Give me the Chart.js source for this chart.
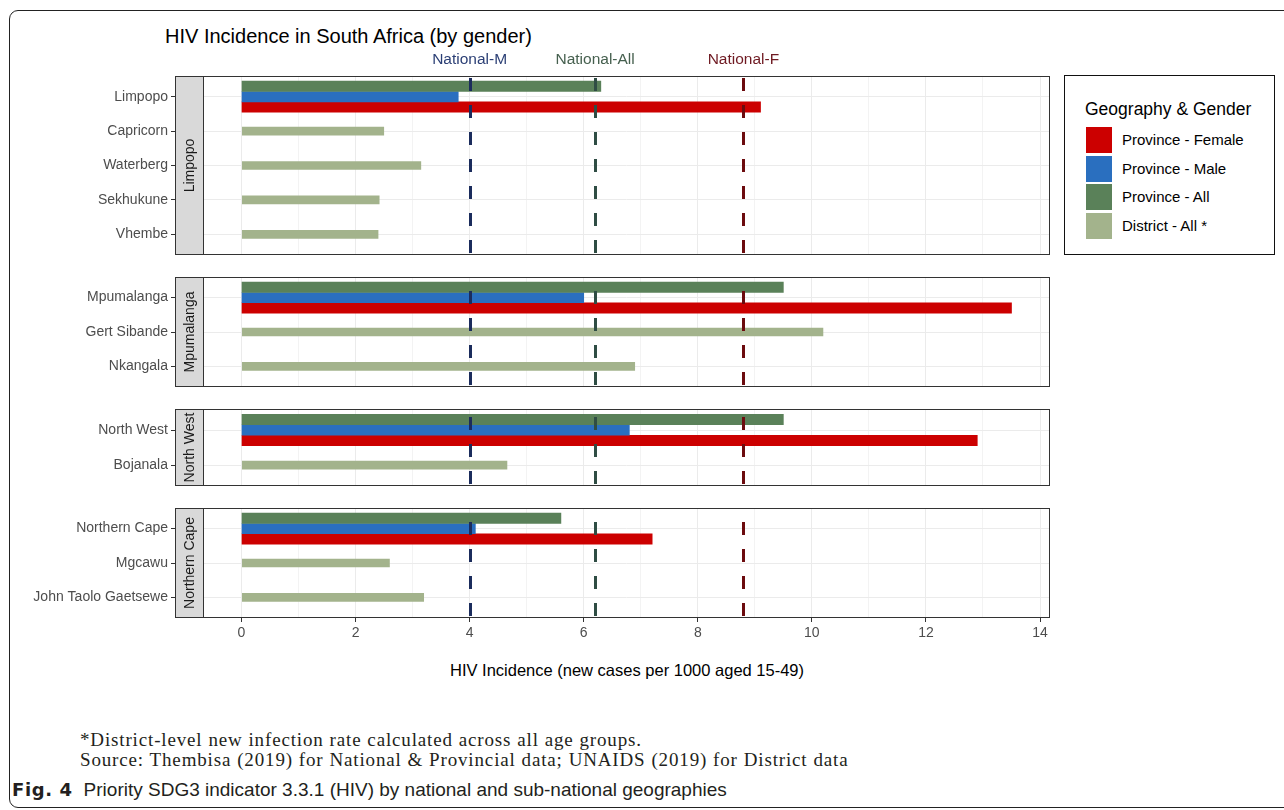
<!DOCTYPE html>
<html>
<head>
<meta charset="utf-8">
<title>HIV Incidence in South Africa (by gender)</title>
<script src="https://cdn.jsdelivr.net/npm/chart.js@4.4.1/dist/chart.umd.min.js"></script>
<style>
  html, body { margin: 0; padding: 0; background: #fff; width: 1284px; height: 810px; overflow: hidden; }
  body { position: relative; font-family: 'Liberation Sans', Arial, sans-serif; }
  .frame { position: absolute; left: 9px; top: 10px; width: 1320px; height: 798px; border: 1.5px solid #222; border-radius: 9px; box-sizing: border-box; }
  .panel { position: absolute; left: 0; width: 1052px; }
  .txt { position: absolute; white-space: nowrap; }
  #title { left: 165px; top: 24px; font-size: 20px; line-height: 24px; color: #000; }
  #xtitle { left: 627px; top: 660px; font-size: 16.5px; line-height: 20px; color: #000; transform: translateX(-50%); }
  #legend { position: absolute; left: 1064px; top: 75px; width: 211px; height: 180px; border: 1px solid #111; box-sizing: border-box; }
  #legend .ltitle { position: absolute; left: 20px; top: 22px; font-size: 17.5px; line-height: 22px; color: #000; white-space: nowrap; }
  #legend .key { position: absolute; left: 21px; width: 26px; height: 26px; }
  #legend .lab { position: absolute; left: 57px; font-size: 15px; line-height: 26px; color: #000; white-space: nowrap; }
  .note { left: 80px; font-family: 'Liberation Serif', 'Times New Roman', serif; font-size: 19px; line-height: 20px; letter-spacing: 0.85px; word-spacing: 0.3px; color: #231f20; }
  #caption { left: 12px; top: 779px; font-family: 'Liberation Sans', Arial, sans-serif; font-size: 19px; line-height: 22px; color: #231f20; }
  #caption b { font-family: 'DejaVu Sans', sans-serif; font-size: 18px; letter-spacing: 0.6px; font-weight: bold; margin-right: 11px; }
</style>
</head>
<body>
<div class="frame"></div>
<div id="title" class="txt">HIV Incidence in South Africa (by gender)</div>

<div class="panel" style="top:40px;height:218px;"><canvas id="p0"></canvas></div>
<div class="panel" style="top:274px;height:116px;"><canvas id="p1"></canvas></div>
<div class="panel" style="top:406px;height:83px;"><canvas id="p2"></canvas></div>
<div class="panel" style="top:505px;height:145px;"><canvas id="p3"></canvas></div>

<div id="xtitle" class="txt">HIV Incidence (new cases per 1000 aged 15-49)</div>
<div id="legend"></div>

<div class="txt note" style="top:730px;">*District-level new infection rate calculated across all age groups.</div>
<div class="txt note" style="top:750px;">Source: Thembisa (2019) for National &amp; Provincial data; UNAIDS (2019) for District data</div>
<div id="caption" class="txt"><b>Fig. 4</b>Priority SDG3 indicator 3.3.1 (HIV) by national and sub-national geographies</div>

<script>
// ---------------- data ----------------
const xTickLabels = [0, 2, 4, 6, 8, 10, 12, 14];

const nationalNames = ['National-M', 'National-All', 'National-F'];
const nationalValues = [4.0, 6.2, 8.8];

const panelNames = ['Limpopo', 'Mpumalanga', 'North West', 'Northern Cape'];

const limpopoRows = ['Limpopo', 'Capricorn', 'Waterberg', 'Sekhukune', 'Vhembe'];
const mpumalangaRows = ['Mpumalanga', 'Gert Sibande', 'Nkangala'];
const northWestRows = ['North West', 'Bojanala'];
const northernCapeRows = ['Northern Cape', 'Mgcawu', 'John Taolo Gaetsewe'];

// province-level incidence, one value per panel
const provinceFemale = [9.1, 13.5, 12.9, 7.2];
const provinceMale = [3.8, 6.0, 6.8, 4.1];
const provinceAll = [6.3, 9.5, 9.5, 5.6];

// district-level incidence (all ages), rows after the province row
const limpopoDistricts = [2.5, 3.15, 2.42, 2.4];
const mpumalangaDistricts = [10.2, 6.9];
const northWestDistricts = [4.66];
const northernCapeDistricts = [2.6, 3.2];

const seriesNames = ['Province - Female', 'Province - Male', 'Province - All', 'District - All *'];

// ---------------- styles ----------------
const seriesColors = ['#cc0000', '#2a6fbf', '#5a8159', '#a3b38c'];
const nationalColors = ['#1b2c5c', '#2f4d44', '#6c0b0e'];
const nationalTextColors = ['#2b3f75', '#46604f', '#6f1a22'];

// dodged province bars share 90% of a row; district bars are 25% of a row
const dodgeWidth = 0.9;
const districtWidth = 0.25;

Chart.defaults.font.family = "'Liberation Sans', Arial, sans-serif";
Chart.defaults.animation = false;

// x range padded by 5% of the largest value on both sides
const allValues = [].concat(provinceFemale, provinceMale, provinceAll,
  limpopoDistricts, mpumalangaDistricts, northWestDistricts, northernCapeDistricts);
const xPad = Math.max(...allValues) * 0.05;
const xMin = -xPad;
const xMax = Math.max(...allValues) + xPad;

// Facet decoration: reference lines, panel border, side strip
const facetPlugin = {
  id: 'facet',
  afterDatasetsDraw(chart) {
    const { ctx, chartArea: a, scales: { x } } = chart;
    ctx.save();
    ctx.beginPath();
    ctx.rect(a.left, a.top, a.right - a.left, a.bottom - a.top);
    ctx.clip();
    nationalValues.forEach((v, i) => {
      const px = Math.round(x.getPixelForValue(v)) + 0.5;
      ctx.strokeStyle = nationalColors[i];
      ctx.lineWidth = 3;
      ctx.setLineDash([13, 14]);
      ctx.lineDashOffset = 25;
      ctx.beginPath();
      ctx.moveTo(px, a.bottom);
      ctx.lineTo(px, a.top);
      ctx.stroke();
    });
    ctx.restore();
  },
  afterDraw(chart, args, opts) {
    const { ctx, chartArea: a, scales: { x } } = chart;
    const L = Math.round(a.left) + 0.5, T = Math.round(a.top) + 0.5;
    const R = Math.round(a.right) - 0.5, B = Math.round(a.bottom) - 0.5;
    ctx.save();
    // strip on the left of the panel
    const sw = 28;
    ctx.fillStyle = '#d9d9d9';
    ctx.fillRect(L - sw, T, sw, B - T);
    ctx.strokeStyle = '#333';
    ctx.lineWidth = 1;
    ctx.strokeRect(L - sw, T, sw, B - T);
    // panel border
    ctx.strokeRect(L, T, R - L, B - T);
    // strip label
    ctx.translate(L - sw / 2, (T + B) / 2);
    ctx.rotate(-Math.PI / 2);
    ctx.fillStyle = '#1a1a1a';
    ctx.font = "14px 'Liberation Sans', Arial, sans-serif";
    ctx.textAlign = 'center';
    ctx.textBaseline = 'middle';
    ctx.fillText(opts.label, 0, 1);
    ctx.restore();
    if (opts.showNational) {
      ctx.save();
      ctx.font = "15.5px 'Liberation Sans', Arial, sans-serif";
      ctx.textAlign = 'center';
      ctx.textBaseline = 'middle';
      nationalValues.forEach((v, i) => {
        ctx.fillStyle = nationalTextColors[i];
        ctx.fillText(nationalNames[i], x.getPixelForValue(v), a.top - 16);
      });
      ctx.restore();
    }
  }
};

function makePanel(canvasId, p, rows, districts, padTop, isBottom) {
  const slot = dodgeWidth / 3;
  // province row (index 0): All on top, Male in the middle, Female below
  const provinceBar = (k, values, shift) => ({
    label: seriesNames[k],
    data: [{ x: values[p], y: shift * slot }],
    backgroundColor: seriesColors[k],
    grouped: false,
    categoryPercentage: 1,
    barPercentage: 1
  });
  return new Chart(document.getElementById(canvasId), {
    type: 'bar',
    data: {
      datasets: [
        provinceBar(2, provinceAll, -1),
        provinceBar(1, provinceMale, 0),
        provinceBar(0, provinceFemale, 1),
        {
          label: seriesNames[3],
          data: districts.map((v, i) => ({ x: v, y: i + 1 })),
          backgroundColor: seriesColors[3],
          grouped: false,
          categoryPercentage: 1,
          barPercentage: districtWidth / slot
        }
      ]
    },
    options: {
      indexAxis: 'y',
      responsive: true,
      maintainAspectRatio: false,
      animation: false,
      events: [],
      layout: { padding: { top: padTop, bottom: isBottom ? 0 : 3, left: 0, right: 2 } },
      plugins: {
        legend: { display: false },
        tooltip: { enabled: false },
        facet: { label: panelNames[p], showNational: p === 0 }
      },
      scales: {
        x: {
          type: 'linear',
          min: xMin,
          max: xMax,
          offset: false,
          afterBuildTicks: s => {
            const t = [];
            for (let v = 0; v <= xTickLabels[xTickLabels.length - 1]; v++) t.push({ value: v });
            s.ticks = t;
          },
          afterFit: s => {
            s.height = isBottom ? 32 : 0;
            s.paddingLeft = 0; s.paddingRight = 0; s.paddingTop = 0; s.paddingBottom = 0;
          },
          border: { display: false },
          grid: {
            offset: false,
            color: c => (c.tick && xTickLabels.includes(c.tick.value)) ? '#ebebeb' : '#f3f3f3',
            lineWidth: 1,
            drawTicks: isBottom,
            tickLength: 4,
            tickWidth: 1,
            tickColor: c => (c.tick && xTickLabels.includes(c.tick.value)) ? '#333' : 'rgba(0,0,0,0)'
          },
          ticks: {
            display: isBottom,
            autoSkip: false,
            maxRotation: 0,
            padding: 3,
            color: '#4d4d4d',
            font: { size: 14 },
            callback: v => xTickLabels.includes(v) ? String(v) : ''
          }
        },
        y: {
          type: 'linear',
          min: -0.6,
          max: rows.length - 0.4,
          reverse: true,
          offset: false,
          afterBuildTicks: s => { s.ticks = rows.map((_, i) => ({ value: i })); },
          afterFit: s => {
            s.width = 203;
            s.paddingLeft = 0; s.paddingRight = 0; s.paddingTop = 0; s.paddingBottom = 0;
          },
          border: { display: false },
          grid: { offset: false, color: '#ebebeb', lineWidth: 1, tickLength: 32, tickWidth: 1, tickColor: '#333' },
          ticks: { autoSkip: false, padding: 3, color: '#4d4d4d', font: { size: 14 }, callback: v => rows[v] }
        }
      }
    },
    plugins: [facetPlugin]
  });
}

makePanel('p0', 0, limpopoRows, limpopoDistricts, 36, false);
makePanel('p1', 1, mpumalangaRows, mpumalangaDistricts, 3, false);
makePanel('p2', 2, northWestRows, northWestDistricts, 3, false);
makePanel('p3', 3, northernCapeRows, northernCapeDistricts, 3, true);

// legend
const legend = document.getElementById('legend');
legend.innerHTML = '<div class="ltitle">Geography &amp; Gender</div>';
seriesNames.forEach((name, i) => {
  const top = 51 + i * 28.7;
  legend.insertAdjacentHTML('beforeend',
    `<div class="key" style="top:${top}px;background:${seriesColors[i]}"></div>` +
    `<div class="lab" style="top:${top}px">${name}</div>`);
});
</script>
</body>
</html>
